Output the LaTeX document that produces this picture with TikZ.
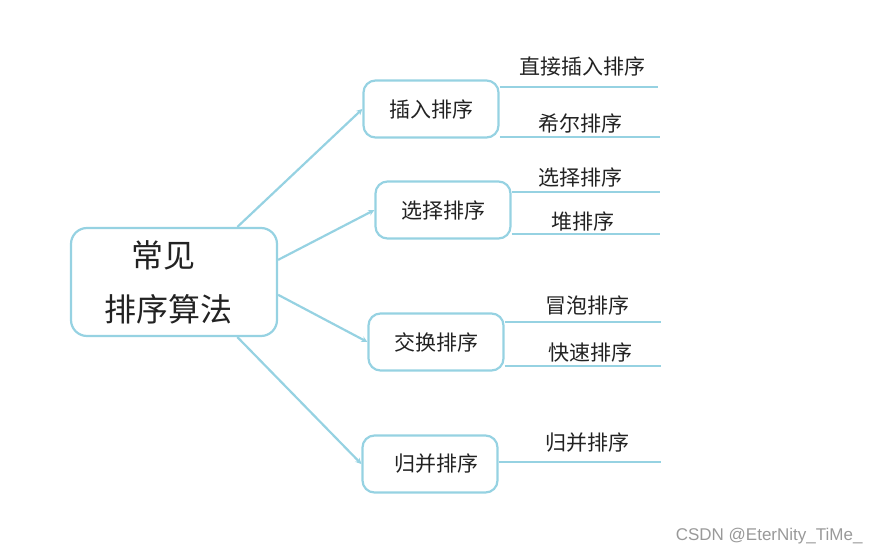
\documentclass[tikz,border=0pt]{standalone}
\usepackage{fontspec}
\setmainfont{Noto Sans CJK SC}
\newfontfamily\markfont{Liberation Sans}
\usetikzlibrary{arrows.meta,positioning}
\definecolor{mapblue}{RGB}{150,210,226}
\definecolor{inkgray}{RGB}{34,34,34}

\begin{document}
\begin{tikzpicture}[
  x=1pt, y=-1pt,
  font=\fontsize{21}{25}\selectfont,
  text=inkgray,
  root/.style={draw=mapblue, line width=2.2pt, rounded corners=16pt, align=center, minimum width=206pt, minimum height=108pt, font=\fontsize{32}{54}\selectfont},
  sortbox/.style={draw=mapblue, line width=2.2pt, rounded corners=12pt, minimum width=135pt, minimum height=57pt},
  leaf/.style={inner sep=0pt},
  link/.style={-{Stealth[length=6pt,width=6pt]}, draw=mapblue, line width=2.2pt},
  branch/.style={draw=mapblue, line width=2.2pt}
]
\useasboundingbox (0,0) rectangle (880,554);

% root and the four kinds of sorting
\node[root] (root) at (174,282) {常见\hspace*{22pt}\\排序算法\hspace*{12pt}};
\node[sortbox] (ins) at (431,109) {插入排序};
\node[sortbox] (sel) at (443,210) {选择排序};
\node[sortbox] (swp) at (436,342) {交换排序};
\node[sortbox] (mrg) at (430,464) {\hspace*{12pt}归并排序};

\draw[link] (root.41) -- (ins.west);
\draw[link] (root.12) -- (sel.west);
\draw[link] (root.-7) -- (swp.west);
\draw[link] (root.-41) -- (mrg.west);

% leaves: text over a line
\coordinate (a1) at (658,87);
\coordinate (a2) at (660,137);
\coordinate (b1) at (660,192);
\coordinate (b2) at (660,234);
\coordinate (c1) at (661,322);
\coordinate (c2) at (661,366);
\coordinate (d1) at (661,462);

\draw[branch] (ins.east |- a1) -- (a1);
\draw[branch] (ins.east |- a2) -- (a2);
\draw[branch] (sel.east |- b1) -- (b1);
\draw[branch] (sel.east |- b2) -- (b2);
\draw[branch] (swp.east |- c1) -- (c1);
\draw[branch] (swp.east |- c2) -- (c2);
\draw[branch] (mrg.east |- d1) -- (d1);

\node[leaf] (a1t) at (582,66) {直接插入排序};
\node[leaf] (a2t) at (580,123) {希尔排序};
\node[leaf] (b1t) at (580,177) {选择排序};
\node[leaf] (b2t) at (583,221) {堆排序};
\node[leaf] (c1t) at (587,305) {冒泡排序};
\node[leaf] (c2t) at (590,353) {快速排序};
\node[leaf] (d1t) at (587,443) {归并排序};

\node[anchor=east, text=black!40, font=\markfont\fontsize{17}{20}\selectfont] (mark) at (866,536) {CSDN @EterNity\_TiMe\_};

\end{tikzpicture}
\end{document}
